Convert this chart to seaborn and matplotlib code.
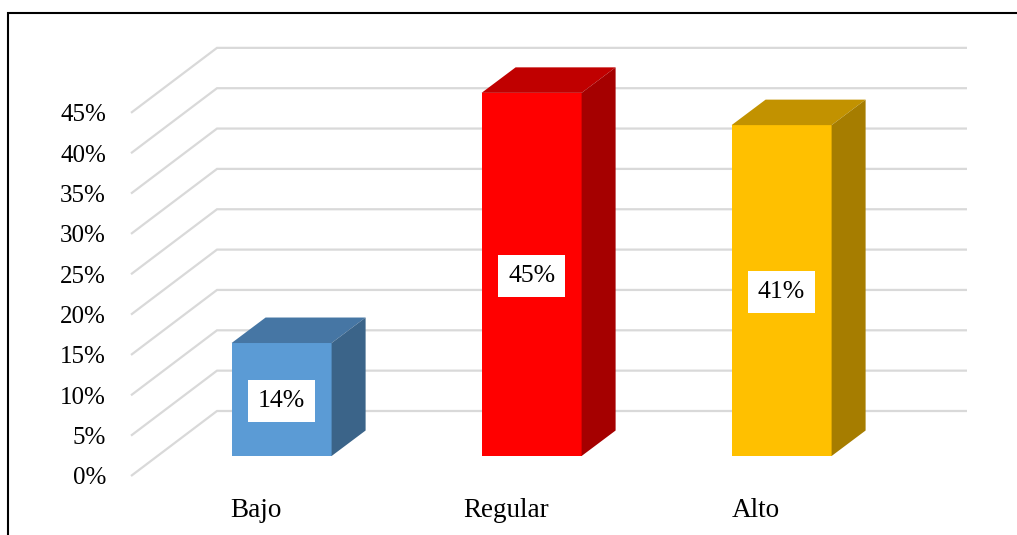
import matplotlib
matplotlib.use("Agg")
import matplotlib.pyplot as plt
import seaborn as sns
import pandas as pd
from matplotlib.lines import Line2D
from matplotlib.patches import Polygon

niveles = ["Bajo", "Regular", "Alto"]
porcentajes = [14, 45, 41]
ticks_y = [0, 5, 10, 15, 20, 25, 30, 35, 40, 45]
etiquetas = ["14%", "45%", "41%"]

color_frente = ["#5B9BD5", "#FF0000", "#FFC000"]
color_techo = ["#4676A4", "#C00000", "#C29200"]
color_lado = ["#3B6489", "#A50000", "#A67D00"]

W, H = 1017, 535
PX_X = 250.0       # pixels per category
PX_Y = 8.07        # pixels per percent


def caja(left, bottom, right, top):
    # pixel box (y from the top of the image) to figure fractions
    return [left / W, 1 - bottom / H, (right - left) / W, (bottom - top) / H]


sns.set_theme(style="white")
plt.rcParams["font.family"] = ["Liberation Serif", "DejaVu Serif"]

df = pd.DataFrame({"Nivel": niveles, "Pct": porcentajes})

fig = plt.figure(figsize=(W / 100, H / 100), dpi=100, facecolor="white")

# back wall and floor lines, on the front plane of the chart
ax_fondo = fig.add_axes(caja(131, 476, 881, 48))
ax_fondo.set_xlim(-0.5, 2.5)
ax_fondo.set_ylim(0, 428 / PX_Y)
fondo_dx = 86 / PX_X
fondo_dy = 65 / PX_Y
for t in ticks_y:
    ax_fondo.plot([-0.5, -0.5 + fondo_dx, 2.5 + fondo_dx],
                  [t, t + fondo_dy, t + fondo_dy],
                  color="#D9D9D9", lw=1.6, clip_on=False,
                  solid_capstyle="butt", solid_joinstyle="miter")
ax_fondo.set_xticks(range(len(niveles)))
ax_fondo.set_xticklabels(niveles, color="black")
ax_fondo.set_yticks(ticks_y)
ax_fondo.set_yticklabels([f"{t}%" for t in ticks_y], color="black")
ax_fondo.tick_params(axis="y", length=0, pad=18, labelsize=18)
ax_fondo.tick_params(axis="x", length=0, pad=15.5, labelsize=19.5)
sns.despine(ax=ax_fondo, left=True, bottom=True)

# bars sit half way into the depth
ax_barras = fig.add_axes(caja(156.6, 456, 906.6, 28))
ax_barras.patch.set_alpha(0)
sns.barplot(data=df, x="Nivel", y="Pct", hue="Nivel", palette=color_frente,
            width=0.4, legend=False, saturation=1, linewidth=0, ax=ax_barras)
ax_barras.set_xlim(-0.5, 2.5)
ax_barras.set_ylim(0, 428 / PX_Y)
ax_barras.axis("off")

prof_x = 34 / PX_X
prof_y = 25.5 / PX_Y
for i, barra in enumerate(ax_barras.patches):
    x0, x1 = barra.get_x(), barra.get_x() + barra.get_width()
    alto = barra.get_height()
    ax_barras.add_patch(Polygon(
        [(x0, alto), (x1, alto), (x1 + prof_x, alto + prof_y), (x0 + prof_x, alto + prof_y)],
        facecolor=color_techo[i], edgecolor="none", clip_on=False))
    ax_barras.add_patch(Polygon(
        [(x1, 0), (x1 + prof_x, prof_y), (x1 + prof_x, alto + prof_y), (x1, alto)],
        facecolor=color_lado[i], edgecolor="none", clip_on=False))

for cont, txt in zip(ax_barras.containers, etiquetas):
    textos = ax_barras.bar_label(cont, labels=[txt], label_type="center", color="black",
                                 fontsize=18.5,
                                 bbox=dict(facecolor="white", edgecolor="none", pad=7))
    for t in textos:
        t.xyann = (0, -1)

# outer frame, only top and left show
fig.add_artist(Line2D([8 / W, 8 / W, 1], [0, 1 - 13 / H, 1 - 13 / H],
                      color="black", lw=1.5, solid_joinstyle="miter"))

fig.savefig("out.png", dpi=100)
